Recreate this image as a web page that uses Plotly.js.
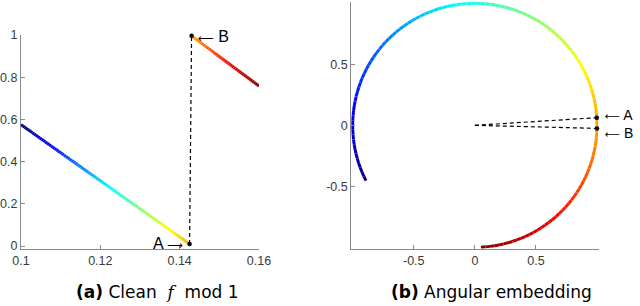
<!DOCTYPE html>
<html>
<head>
<meta charset="utf-8">
<script src="https://cdn.plot.ly/plotly-3.0.1.min.js"></script>
<style>html,body{margin:0;padding:0;background:#fff;}#chart{width:640px;height:306px;}</style>
</head>
<body>
<div id="chart"></div>
<script>
// ---- data ----
// panel (a): f mod 1 along x, two straight pieces split by the wrap-around
const xSeg1 = [0.1, 0.1425];
const fSeg1 = [0.575, 0.01];
const xSeg2 = [0.143, 0.16];
const fSeg2 = [0.996, 0.758];
const pointLabels = ['A', 'B'];
const xTicksA = [0.1, 0.12, 0.14, 0.16];
const yTicksA = [0, 0.2, 0.4, 0.6, 0.8, 1];
const ticksB = [-0.5, 0, 0.5];
const tickTextB = ['-0.5', '0', '0.5'];
const captionA = '<b>(a)</b> Clean&nbsp; <span style="font-family:DejaVu Serif"><i>f</i></span>&nbsp; mod 1';
const captionB = '<b>(b)</b> Angular embedding';

// MATLAB jet colour map
function jet(t) {
  t = Math.max(0, Math.min(1, t));
  const c = v => Math.round(255 * Math.max(0, Math.min(1, v)));
  const r = 1.5 - Math.abs(4 * t - 3);
  const g = 1.5 - Math.abs(4 * t - 2);
  const b = 1.5 - Math.abs(4 * t - 1);
  return 'rgb(' + c(r) + ',' + c(g) + ',' + c(b) + ')';
}
const xMin = xSeg1[0], xMax = xSeg2[1];
const tOf = x => (x - xMin) / (xMax - xMin);

// subdivide each straight piece only so the colour can change along it
function samples(xs, fs, n) {
  const out = [];
  for (let i = 0; i <= n; i++) {
    const s = i / n;
    out.push({x: xs[0] + (xs[1] - xs[0]) * s, f: fs[0] + (fs[1] - fs[0]) * s});
  }
  return out;
}
const s1 = samples(xSeg1, fSeg1, 90);
const s2 = samples(xSeg2, fSeg2, 40);
const ang = f => 2 * Math.PI * f;

const traces = [];
function addSegs(pts) {
  for (let i = 1; i < pts.length; i++) {
    const a = pts[i - 1], b = pts[i];
    const col = jet(tOf((a.x + b.x) / 2));
    traces.push({x: [a.x, b.x], y: [a.f, b.f], xaxis: 'x', yaxis: 'y', mode: 'lines',
      line: {color: col, width: 3}, hoverinfo: 'skip', showlegend: false});
  }
}
function addArc(pts) {
  for (let i = 1; i < pts.length; i++) {
    const a = pts[i - 1], b = pts[i];
    const col = jet(tOf((a.x + b.x) / 2));
    traces.push({x: [Math.cos(ang(a.f)), Math.cos(ang(b.f))], y: [Math.sin(ang(a.f)), Math.sin(ang(b.f))],
      xaxis: 'x2', yaxis: 'y2', mode: 'lines', line: {color: col, width: 3}, hoverinfo: 'skip', showlegend: false});
  }
}
addSegs(s1); addSegs(s2);
addArc(s1);
addArc([s1[s1.length - 1], s2[0]]);
addArc(s2);

const pA = {x: xSeg1[1], f: fSeg1[1]};
const pB = {x: xSeg2[0], f: fSeg2[0]};
// dashed jump line in (a)
traces.push({x: [pA.x, pB.x], y: [pA.f, pB.f], xaxis: 'x', yaxis: 'y', mode: 'lines',
  line: {color: '#000', width: 1.2, dash: '4px,3px'}, hoverinfo: 'skip', showlegend: false});
traces.push({x: [pA.x, pB.x], y: [pA.f, pB.f], xaxis: 'x', yaxis: 'y', mode: 'markers',
  marker: {color: '#000', size: 4.5}, hoverinfo: 'skip', showlegend: false, cliponaxis: false});
// dashed rays in (b)
[pA, pB].forEach(p => {
  traces.push({x: [0, Math.cos(ang(p.f))], y: [0, Math.sin(ang(p.f))], xaxis: 'x2', yaxis: 'y2', mode: 'lines',
    line: {color: '#000', width: 1.2, dash: '4px,3px'}, hoverinfo: 'skip', showlegend: false});
});
traces.push({x: [pA, pB].map(p => Math.cos(ang(p.f))), y: [pA, pB].map(p => Math.sin(ang(p.f))),
  xaxis: 'x2', yaxis: 'y2', mode: 'markers', marker: {color: '#000', size: 4.5}, hoverinfo: 'skip', showlegend: false, cliponaxis: false});

const W = 640, H = 306;
const axBase = {showgrid: false, zeroline: false, showline: true, linecolor: '#8a8a8a', linewidth: 1,
  ticks: 'inside', ticklen: 4, tickcolor: '#8a8a8a', tickfont: {family: 'Liberation Sans', size: 12.5, color: '#3a3a3a'},
  fixedrange: true};
const annFont = {family: 'Liberation Sans', size: 16, color: '#000'};
const annFontB = {family: 'Liberation Sans', size: 14, color: '#000'};
const capFont = {family: 'DejaVu Sans', size: 17, color: '#000'};
const ar = (s, sz) => '<span style="font-family:DejaVu Sans;font-size:' + sz + 'px">' + s + '</span>';
const LA = '\u27F5', RA = '\u27F6';

const layout = {
  width: W, height: H, margin: {l: 0, r: 0, t: 0, b: 0},
  paper_bgcolor: '#fff', plot_bgcolor: '#fff', showlegend: false,
  xaxis: Object.assign({}, axBase, {domain: [21 / W, 259 / W], range: [xMin, xMax], tickvals: xTicksA, anchor: 'y'}),
  yaxis: Object.assign({}, axBase, {domain: [56.7 / H, 271 / H], range: [-0.0156, 1], tickvals: yTicksA, anchor: 'x'}),
  xaxis2: Object.assign({}, axBase, {domain: [351.2 / W, 598.5 / W], range: [-1.012, 1.012], tickvals: ticksB, ticktext: tickTextB, anchor: 'y2'}),
  yaxis2: Object.assign({}, axBase, {domain: [57.2 / H, 304.5 / H], range: [-1.012, 1.015], tickvals: ticksB, ticktext: tickTextB, anchor: 'x2'}),
  annotations: [
    {x: pA.x, y: pA.f, xref: 'x', yref: 'y', text: pointLabels[0] + ' ' + ar(RA, 11), showarrow: false, xanchor: 'right', yanchor: 'middle', xshift: -5, font: annFont},
    {x: pB.x, y: pB.f, xref: 'x', yref: 'y', text: ar(LA, 11) + ' ' + pointLabels[1], showarrow: false, xanchor: 'left', yanchor: 'middle', xshift: 4, yshift: -1, font: annFont},
    {x: Math.cos(ang(pA.f)), y: Math.sin(ang(pA.f)), xref: 'x2', yref: 'y2', text: ar(LA, 10.5) + ' ' + pointLabels[0], showarrow: false, xanchor: 'left', yanchor: 'middle', xshift: 6, yshift: 3, font: annFontB},
    {x: Math.cos(ang(pB.f)), y: Math.sin(ang(pB.f)), xref: 'x2', yref: 'y2', text: ar(LA, 10.5) + ' ' + pointLabels[1], showarrow: false, xanchor: 'left', yanchor: 'middle', xshift: 6, yshift: -5, font: annFontB},
    {x: 157.5 / W, y: 14 / H, xref: 'paper', yref: 'paper', text: captionA, showarrow: false, xanchor: 'center', yanchor: 'middle', font: capFont},
    {x: 491 / W, y: 14 / H, xref: 'paper', yref: 'paper', text: captionB, showarrow: false, xanchor: 'center', yanchor: 'middle', font: capFont}
  ]
};
Plotly.newPlot('chart', traces, layout, {staticPlot: true, displayModeBar: false});
</script>
</body>
</html>
